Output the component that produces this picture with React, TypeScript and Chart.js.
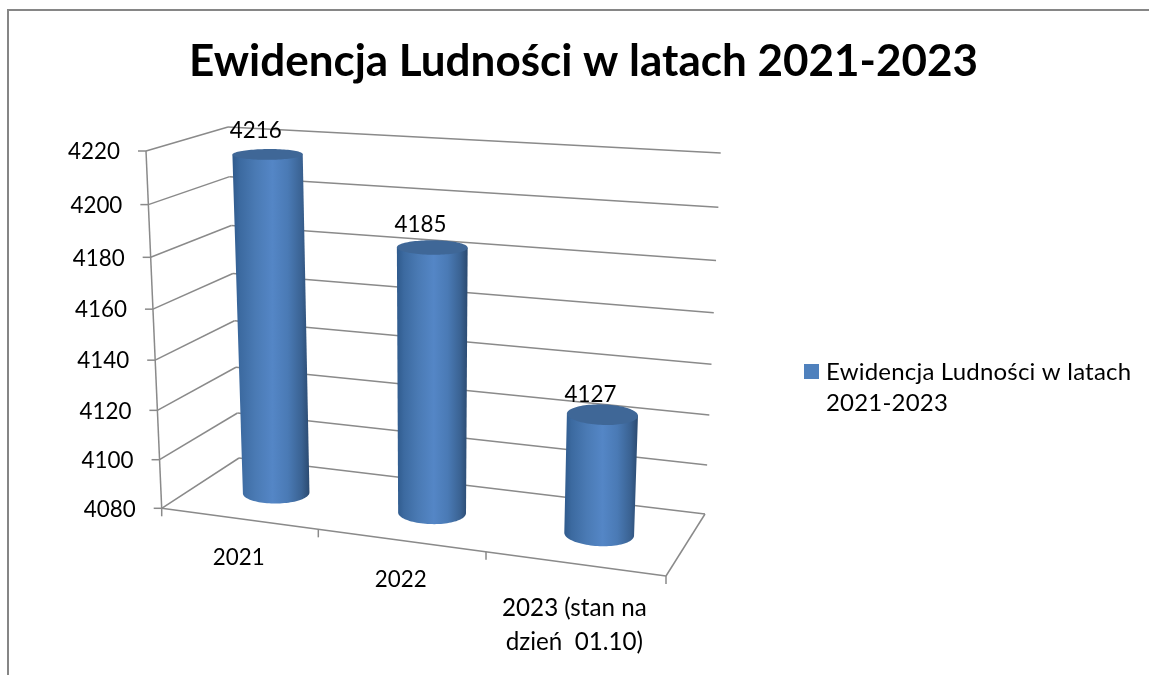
import React, { useEffect, useRef } from "react";
import { Chart, registerables } from "chart.js";

Chart.register(...registerables);

const categories: (string | string[])[] = ["2021", "2022", ["2023 (stan na", "dzień  01.10)"]];
const seriesName = "Ewidencja Ludności w latach 2021-2023";
const seriesValues = [4216, 4185, 4127];
const titleText = "Ewidencja Ludności w latach 2021-2023";
const axisMin = 4080;
const axisMax = 4220;
const axisStep = 20;

const FONT = "Lato";
const GRID = "#8a8a8a";

type P = [number, number];
const FLb: P = [161.7, 508.3], FRb: P = [666, 576], BLb: P = [239, 458], BRb: P = [705, 514];
const FLt: P = [146, 151], FRt: P = [680.6, 187], BLt: P = [228, 127], BRt: P = [720.7, 153];

const persp = (t: number, k: number) => t / (t + k * (1 - t));
const lerp = (a: P, b: P, t: number): P => [a[0] + (b[0] - a[0]) * t, a[1] + (b[1] - a[1]) * t];
const raw = (U: number, V: number, W: number): P => {
  const fb = lerp(FLb, FRb, U), bb = lerp(BLb, BRb, U), ft = lerp(FLt, FRt, U), bt = lerp(BLt, BRt, U);
  return lerp(lerp(fb, bb, W), lerp(ft, bt, W), V);
};
const pU = (u: number) => persp(u, 1.11);
const pV = (v: number) => persp(v, 1.059);
const RW = 0.19;

function seg(ctx: CanvasRenderingContext2D, a: P, b: P) {
  ctx.beginPath();
  ctx.moveTo(a[0], a[1]);
  ctx.lineTo(b[0], b[1]);
  ctx.stroke();
}

function ellipse(U: number, V: number, W: number): P[] {
  const pts: P[] = [];
  const ru = 0.061 + 0.0105 * U;
  for (let i = 0; i < 96; i++) {
    const t = (i / 96) * Math.PI * 2;
    pts.push(raw(U + ru * Math.cos(t), V, W + RW * Math.sin(t)));
  }
  return pts;
}

const extremes = (pts: P[]) => {
  let a = 0, b = 0;
  pts.forEach((p, i) => {
    if (p[0] < pts[a][0]) a = i;
    if (p[0] > pts[b][0]) b = i;
  });
  return [a, b];
};

const walls = {
  id: "walls",
  beforeDatasetsDraw(chart: any) {
    const { ctx, scales } = chart;
    const y = scales.y, x = scales.x;
    const vOf = (val: number) => pV((y.bottom - y.getPixelForValue(val)) / y.height);
    ctx.save();
    // outer frame
    ctx.strokeStyle = "#868686";
    ctx.lineWidth = 2;
    ctx.beginPath();
    ctx.moveTo(8, 675);
    ctx.lineTo(8, 10);
    ctx.lineTo(1149, 10);
    ctx.stroke();

    ctx.strokeStyle = GRID;
    ctx.lineWidth = 1.5;
    ctx.fillStyle = "#000";
    ctx.textBaseline = "middle";
    ctx.textAlign = "right";
    ctx.font = `22.4px ${FONT}`;
    y.ticks.forEach((tk: any) => {
      const V = vOf(tk.value);
      const a = raw(0, V, 0), b = raw(0, V, 1), c = raw(1, V, 1);
      seg(ctx, b, c);
      seg(ctx, a, b);
      seg(ctx, [a[0] - 8, a[1]], a);
      ctx.fillText(String(tk.value), a[0] - 26, a[1] + 1);
    });
    seg(ctx, raw(0, 0, 0), raw(0, 1, 0));
    seg(ctx, raw(0, 0, 0), raw(1, 0, 0));
    seg(ctx, raw(1, 0, 0), raw(1, 0, 1));
    // category boundary ticks and labels, from the category scale
    const n = categories.length;
    for (let i = 0; i <= n; i++) {
      const a = raw(pU(i / n), 0, 0);
      seg(ctx, a, [a[0], a[1] + 8]);
    }
    ctx.textAlign = "center";
    chart.data.labels.forEach((lab: string | string[], i: number) => {
      const u = (x.getPixelForValue(i) - x.left) / x.width;
      const a = raw(pU(u), 0, 0);
      const lines = Array.isArray(lab) ? lab : [lab];
      ctx.font = `${lines.length > 1 ? 24.2 : 22.4}px ${FONT}`;
      lines.forEach((ln, j) => {
        ctx.fillText(ln, a[0], a[1] + 39 + (lines.length - 1) * 5.5 + j * 33.5);
      });
    });
    ctx.restore();
  },
  afterDatasetsDraw(chart: any) {
    const { ctx, scales } = chart;
    const y = scales.y, x = scales.x;
    const values: number[] = chart.data.datasets[0].data;
    ctx.save();
    values.forEach((val, i) => {
      const U = pU((x.getPixelForValue(i) - x.left) / x.width) + 0.004;
      const V = pV((y.bottom - y.getPixelForValue(val)) / y.height);
      const top = ellipse(U, V, 0.5), bot = ellipse(U, 0, 0.5);
      const [tl, tr] = extremes(top), [bl, br] = extremes(bot);
      const leftX = Math.min(top[tl][0], bot[bl][0]), rightX = Math.max(top[tr][0], bot[br][0]);
      const g = ctx.createLinearGradient(leftX, 0, rightX, 0);
      g.addColorStop(0, "#2f5a8c");
      g.addColorStop(0.1, "#3c6aa0");
      g.addColorStop(0.3, "#4a7ab4");
      g.addColorStop(0.52, "#5486c6");
      g.addColorStop(0.72, "#4a7ab5");
      g.addColorStop(0.9, "#3a6292");
      g.addColorStop(1, "#2b4a70");
      // walk the lower rim of the base, from its left extreme to its right one
      const len = bot.length;
      const fwd: P[] = [], back: P[] = [];
      for (let k = bl; ; k = (k + 1) % len) { fwd.push(bot[k]); if (k === br) break; }
      for (let k = bl; ; k = (k - 1 + len) % len) { back.push(bot[k]); if (k === br) break; }
      const lower = fwd[fwd.length >> 1][1] > back[back.length >> 1][1] ? fwd : back;
      ctx.beginPath();
      ctx.moveTo(top[tl][0], top[tl][1]);
      lower.forEach((p) => ctx.lineTo(p[0], p[1]));
      ctx.lineTo(top[tr][0], top[tr][1]);
      ctx.closePath();
      ctx.fillStyle = g;
      ctx.fill();
      ctx.beginPath();
      top.forEach((p, k) => (k ? ctx.lineTo(p[0], p[1]) : ctx.moveTo(p[0], p[1])));
      ctx.closePath();
      ctx.fillStyle = "#3f6797";
      ctx.fill();
      // data label
      const c = raw(U, V, 0.5);
      const ys = top.map((p) => p[1]);
      const hh = (Math.max(...ys) - Math.min(...ys)) / 2;
      ctx.fillStyle = "#000";
      ctx.font = `22.4px ${FONT}`;
      ctx.textAlign = "center";
      ctx.textBaseline = "middle";
      ctx.fillText(String(val), c[0] - 12, c[1] - (28 - hh * 0.8));
    });
    // legend
    const ds = chart.data.datasets[0];
    ctx.fillStyle = "#4f81bd";
    ctx.fillRect(804, 364, 15, 15);
    ctx.fillStyle = "#000";
    ctx.font = `24px ${FONT}`;
    (ctx as any).letterSpacing = "0.2px";
    ctx.textAlign = "left";
    ctx.textBaseline = "middle";
    const lines: string[] = [];
    let cur = "";
    ds.label.split(" ").forEach((w: string) => {
      const t = cur ? cur + " " + w : w;
      if (ctx.measureText(t).width > 315) { lines.push(cur); cur = w; } else cur = t;
    });
    lines.push(cur);
    lines.forEach((ln, j) => ctx.fillText(ln, 826, 372 + j * 31.5));
    (ctx as any).letterSpacing = "0px";
    ctx.restore();
  },
};

export default function App() {
  const ref = useRef<HTMLCanvasElement>(null);
  useEffect(() => {
    const chart = new Chart(ref.current!, {
      type: "bar",
      data: {
        labels: categories as any,
        datasets: [{ label: seriesName, data: seriesValues, backgroundColor: "rgba(0,0,0,0)", borderWidth: 0 }],
      },
      options: {
        responsive: false,
        animation: false,
        layout: { padding: { left: 18 } },
        scales: {
          x: { display: false },
          y: { display: false, min: axisMin, max: axisMax, ticks: { stepSize: axisStep } },
        },
        plugins: {
          legend: { display: false },
          tooltip: { enabled: false },
          title: {
            display: true,
            text: titleText,
            color: "#000",
            font: { family: FONT, size: 44, weight: "bold" },
            padding: { top: 35, bottom: 20 },
          },
        },
      },
      plugins: [walls],
    } as any);
    return () => chart.destroy();
  }, []);
  return <canvas ref={ref} width={1149} height={675} style={{ position: "fixed", left: 0, top: 0, display: "block" }} />;
}
